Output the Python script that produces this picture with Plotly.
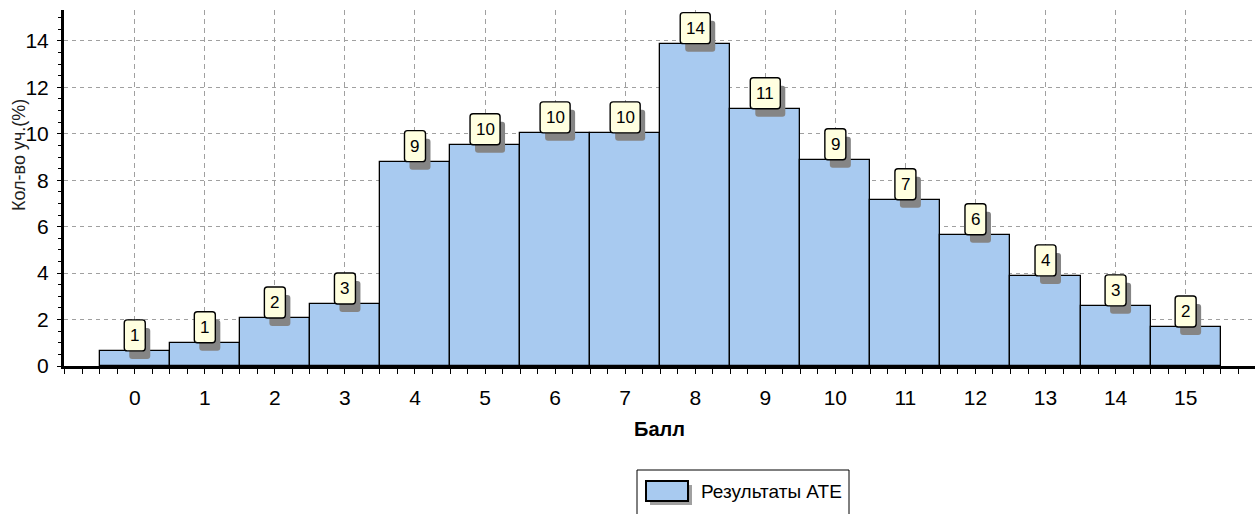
import plotly.graph_objects as go

# Score distribution: share of pupils (%) per score
scores = list(range(16))
shares = [0.65, 1.0, 2.07, 2.67, 8.8, 9.53, 10.04, 10.04, 13.88, 11.08, 8.88, 7.16, 5.65, 3.88, 2.59, 1.68]
series_name = "Результаты АТЕ"
x_title = "Балл"
y_title = "Кол-во уч.(%)"

FONT = "Liberation Sans, Arial, sans-serif"
BAR_FILL = "#A8CAF0"
W, H = 1255, 514
M_L, M_R, M_T, M_B = 64, 0, 10, 148

fig = go.Figure()
fig.add_trace(go.Bar(
    x=scores, y=shares, width=1.0, name=series_name,
    marker=dict(color=BAR_FILL, line=dict(color="black", width=1.3)),
    showlegend=False, hoverinfo="x+y",
))

shapes = []
annotations = []


def rounded_rect(x0, y0, x1, y1, r):
    return (f"M{x0 + r},{y0} L{x1 - r},{y0} Q{x1},{y0} {x1},{y0 + r} "
            f"L{x1},{y1 - r} Q{x1},{y1} {x1 - r},{y1} L{x0 + r},{y1} "
            f"Q{x0},{y1} {x0},{y1 - r} L{x0},{y0 + r} Q{x0},{y0} {x0 + r},{y0} Z")


# Value callouts above each bar: shadow, rounded box, rounded percentage
for s, v in zip(scores, shares):
    label = str(int(round(v)))
    bw = 21 if len(label) == 1 else 30
    bh = 31
    common = dict(type="path", xref="x", yref="y", xsizemode="pixel", ysizemode="pixel",
                  xanchor=s, yanchor=v, layer="above")
    shapes.append(dict(common, path=rounded_rect(-bw / 2 + 5, -8, bw / 2 + 5, bh - 8, 3),
                       fillcolor="#858585", line=dict(width=0)))
    shapes.append(dict(common, path=rounded_rect(-bw / 2, 0, bw / 2, bh, 3),
                       fillcolor="#FFFFE0", line=dict(color="black", width=1.4)))
    annotations.append(dict(x=s, y=v, xref="x", yref="y", text=label, showarrow=False,
                            yanchor="middle", yshift=bh / 2, font=dict(family=FONT, size=17, color="black")))


def px_x(px):
    return (px - M_L) / (W - M_L - M_R)


def px_y(py):
    return (H - M_B - py) / (H - M_T - M_B)


# Legend frame, swatch with shadow and series name
shapes.append(dict(type="rect", xref="paper", yref="paper", x0=px_x(637), x1=px_x(849),
                   y0=px_y(530), y1=px_y(470), line=dict(color="black", width=1), fillcolor="white"))
shapes.append(dict(type="rect", xref="paper", yref="paper", x0=px_x(650), x1=px_x(692),
                   y0=px_y(505), y1=px_y(485), line=dict(width=0), fillcolor="#A0A0A0"))
shapes.append(dict(type="rect", xref="paper", yref="paper", x0=px_x(646), x1=px_x(688),
                   y0=px_y(501), y1=px_y(481), line=dict(color="black", width=2), fillcolor=BAR_FILL))
annotations.append(dict(x=px_x(699), y=px_y(491), xref="paper", yref="paper", text=series_name,
                        showarrow=False, xanchor="left", yanchor="middle",
                        font=dict(family=FONT, size=19, color="black")))

# Axis titles
annotations.append(dict(x=0.5, y=px_y(429), xref="paper", yref="paper", text=f"<b>{x_title}</b>",
                        showarrow=False, xanchor="center", yanchor="middle",
                        font=dict(family=FONT, size=20, color="black")))
annotations.append(dict(x=px_x(19), y=px_y(155), xref="paper", yref="paper", text=y_title,
                        showarrow=False, textangle=-90, xanchor="center", yanchor="middle",
                        font=dict(family=FONT, size=18, color="#222222")))

fig.update_layout(
    width=W, height=H,
    margin=dict(l=M_L, r=M_R, t=M_T, b=M_B),
    paper_bgcolor="white", plot_bgcolor="white",
    bargap=0,
    shapes=shapes,
    annotations=annotations,
    showlegend=False,
    xaxis=dict(
        range=[-1.01, 15.99], tickmode="array", tickvals=scores,
        ticks="outside", ticklen=5, tickcolor="black", tickwidth=1,
        minor=dict(tickmode="linear", dtick=0.25, tick0=0, ticks="outside", ticklen=5,
                   tickcolor="black", showgrid=False),
        showgrid=True, gridcolor="#A0A0A0", gridwidth=1, griddash="5px,4px",
        showline=True, linecolor="black", linewidth=3, zeroline=False,
        tickfont=dict(family=FONT, size=21, color="black"),
        ticklabelstandoff=6,
    ),
    yaxis=dict(
        range=[0, 15.33], tickmode="linear", tick0=0, dtick=2,
        ticks="outside", ticklen=4, tickcolor="black", tickwidth=1,
        minor=dict(dtick=0.5, tick0=0, ticks="outside", ticklen=3, tickcolor="black", showgrid=False),
        showgrid=True, gridcolor="#A0A0A0", gridwidth=1, griddash="4px,4px",
        showline=True, linecolor="black", linewidth=3, zeroline=False,
        tickfont=dict(family=FONT, size=21, color="black"),
        ticklabelstandoff=4,
    ),
)

fig.write_html("out.html")
